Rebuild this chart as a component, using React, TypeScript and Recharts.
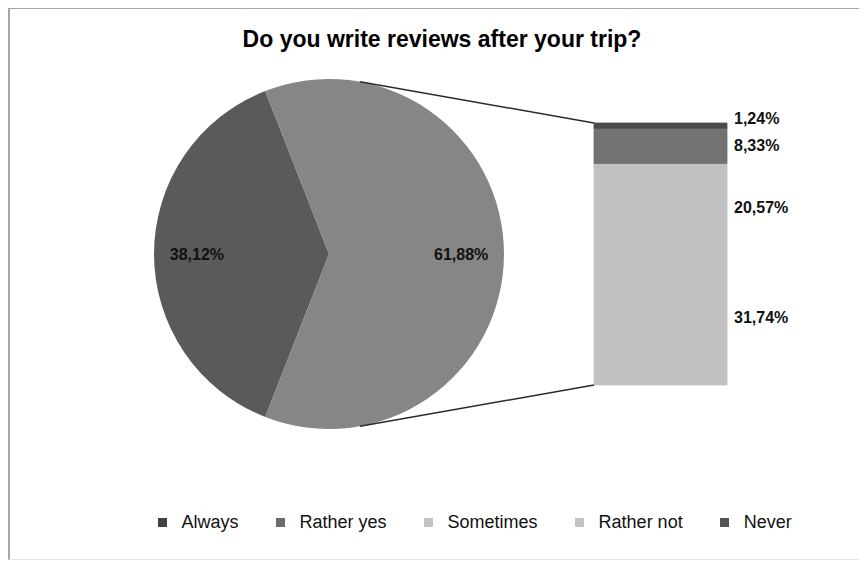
import React from 'react';
import { PieChart, Pie, Cell, BarChart, Bar, XAxis, YAxis, LabelList, Legend } from 'recharts';

// ---------- data ----------
const titleText = 'Do you write reviews after your trip?';
const pieCategories = ['Always', 'Other'];
const pieValues = [38.12, 61.88];
// second plot, stacked bottom -> top
const barCategories = ['Sometimes', 'Rather not', 'Rather yes', 'Never'];
const barValues = [31.74, 20.57, 8.33, 1.24];
const legendLabels = ['Always', 'Rather yes', 'Sometimes', 'Rather not', 'Never'];

// ---------- styles ----------
const pieColors = ['#5a5a5a', '#868686'];
const barColors = ['#c1c1c1', '#c1c1c1', '#727272', '#4b4b4b'];
const barLabelShift = [0, 0, 0, -7.5];
const legendColors = ['#424242', '#6c6c6c', '#c3c3c3', '#c3c3c3', '#545454'];

const FONT = '"Liberation Sans", Arial, Helvetica, sans-serif';
const W = 854;
const H = 550;
const PIE_CX = 319;
const PIE_CY = 245;
const PIE_R = 175;
const START = 180 - (pieValues[0] / (pieValues[0] + pieValues[1])) * 180;
const BAR_LEFT = 584;
const BAR_RIGHT = 717;
const BAR_TOP = 114;
const BAR_BOTTOM = 376;
const CONNECT_ANGLE = 79.8;

const fmt = (v: number) => v.toFixed(2).replace('.', ',') + '%';

const pieData = pieCategories.map((name, i) => ({ name, value: pieValues[i] }));
const barRow: Record<string, any> = { name: 'Other' };
barCategories.forEach((c, i) => {
  barRow['k' + i] = barValues[i];
});
const barData = [barRow];
const barTotal = barValues.reduce((a, b) => a + b, 0);

const RAD = Math.PI / 180;

const renderPieLabel = (props: any) => {
  const cx = Number(props.cx ?? PIE_CX);
  const cy = Number(props.cy ?? PIE_CY);
  const or = Number(props.outerRadius ?? PIE_R);
  const mid = Number(props.midAngle);
  const r = or * 0.755;
  const x = cx + r * Math.cos(-mid * RAD);
  const y = cy + r * Math.sin(-mid * RAD);
  return (
    <text
      x={x}
      y={y}
      textAnchor="middle"
      dominantBaseline="central"
      fontFamily={FONT}
      fontSize={16}
      fontWeight="bold"
      fill="#111"
    >
      {fmt(Number(props.value))}
    </text>
  );
};

const makeBarLabel = (dy: number) => (props: any) => {
  const x = Number(props.x);
  const y = Number(props.y);
  const w = Number(props.width);
  const h = Number(props.height);
  return (
    <text
      x={x + w + 7}
      y={y + h / 2 + dy}
      textAnchor="start"
      dominantBaseline="central"
      fontFamily={FONT}
      fontSize={16}
      fontWeight="bold"
      fill="#111"
    >
      {fmt(Number(props.value))}
    </text>
  );
};

const LegendContent = () => (
  <div
    style={{
      display: 'flex',
      alignItems: 'center',
      paddingLeft: 148,
      fontFamily: FONT,
      fontSize: 18,
      color: '#111',
      lineHeight: '22px',
    }}
  >
    {legendLabels.map((l, i) => (
      <div key={l} style={{ display: 'flex', alignItems: 'center', marginRight: 37.5 }}>
        <span
          style={{
            display: 'inline-block',
            width: 9,
            height: 9,
            background: legendColors[i],
            marginRight: 14.5,
          }}
        />
        <span>{l}</span>
      </div>
    ))}
  </div>
);

export default function App() {
  const a = CONNECT_ANGLE * RAD;
  const topPt = { x: PIE_CX + PIE_R * Math.cos(a), y: PIE_CY - PIE_R * Math.sin(a) };
  const botPt = { x: PIE_CX + PIE_R * Math.cos(a), y: PIE_CY + PIE_R * Math.sin(a) };
  return (
    <div
      style={{
        position: 'relative',
        marginTop: -1,
        width: 857,
        height: 553,
        boxSizing: 'border-box',
        borderLeft: '2px solid #a6a6a6',
        borderTop: '2px solid #a6a6a6',
        borderRight: '1px solid #e2e2e2',
        borderBottom: '1px solid #e2e2e2',
        background: '#fff',
      }}
    >
      <div
        style={{
          position: 'absolute',
          left: 5,
          top: 18,
          width: W,
          textAlign: 'center',
          fontFamily: FONT,
          fontWeight: 'bold',
          fontSize: 23,
          lineHeight: '25px',
          color: '#000',
        }}
      >
        {titleText}
      </div>

      <div style={{ position: 'absolute', left: 0, top: 0 }}>
        <PieChart width={W} height={H} margin={{ top: 0, right: 0, bottom: 0, left: 0 }}>
          <Pie
            data={pieData}
            dataKey="value"
            nameKey="name"
            cx={PIE_CX}
            cy={PIE_CY}
            outerRadius={PIE_R}
            startAngle={START}
            endAngle={START + 360}
            stroke="none"
            label={renderPieLabel}
            labelLine={false}
            isAnimationActive={false}
          >
            {pieData.map((d, i) => (
              <Cell key={d.name} fill={pieColors[i]} />
            ))}
          </Pie>
          <Legend
            content={() => <LegendContent />}
            wrapperStyle={{ position: 'absolute', left: 0, top: 502, width: W, height: 22 }}
          />
        </PieChart>
      </div>

      <div style={{ position: 'absolute', left: 0, top: 0 }}>
        <BarChart
          width={W}
          height={H}
          data={barData}
          barCategoryGap={0}
          barGap={0}
          margin={{ top: BAR_TOP, bottom: H - BAR_BOTTOM, left: BAR_LEFT, right: W - BAR_RIGHT }}
        >
          <XAxis dataKey="name" type="category" hide />
          <YAxis type="number" domain={[0, barTotal]} hide />
          {barCategories.map((c, i) => (
            <Bar
              key={c}
              dataKey={'k' + i}
              name={c}
              stackId="s"
              fill={barColors[i]}
              stroke={barColors[i]}
              strokeWidth={0.8}
              isAnimationActive={false}
            >
              <LabelList dataKey={'k' + i} content={makeBarLabel(barLabelShift[i])} />
            </Bar>
          ))}
        </BarChart>
      </div>

      <svg
        width={W}
        height={H}
        style={{ position: 'absolute', left: 0, top: 0, pointerEvents: 'none' }}
      >
        <line x1={topPt.x} y1={topPt.y} x2={BAR_LEFT} y2={BAR_TOP} stroke="#2a2a2a" strokeWidth={1.5} />
        <line x1={botPt.x} y1={botPt.y} x2={BAR_LEFT} y2={BAR_BOTTOM} stroke="#2a2a2a" strokeWidth={1.5} />
      </svg>
    </div>
  );
}
